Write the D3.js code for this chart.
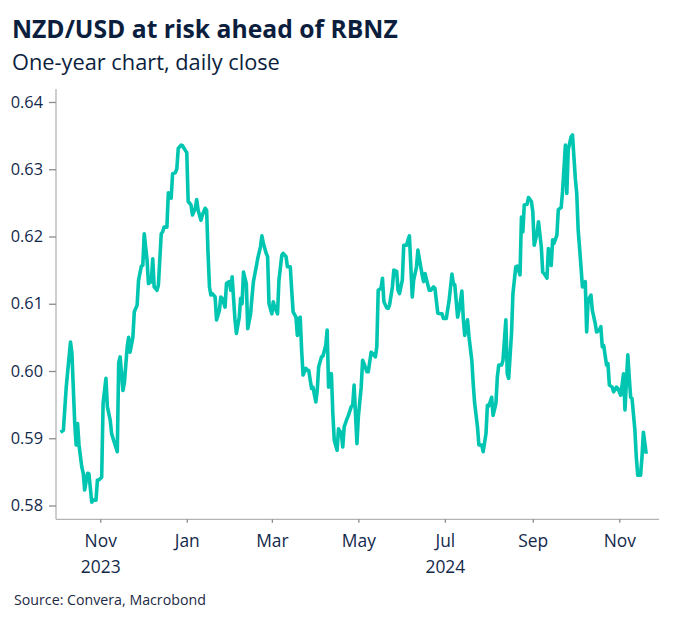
<!DOCTYPE html>
<html><head><meta charset="utf-8">
<script src="https://cdn.jsdelivr.net/npm/d3@7"></script>
<style>body{margin:0;background:#fff}svg{display:block}</style>
</head><body>
<svg id="chart" width="680" height="624"></svg>
<script>
const titleText = "NZD/USD at risk ahead of RBNZ";
const subtitleText = "One-year chart, daily close";
const sourceText = "Source: Convera, Macrobond";

const yTickValues = [0.58, 0.59, 0.60, 0.61, 0.62, 0.63, 0.64];
const xTickDates = ["2023-11-01","2024-01-01","2024-03-01","2024-05-01","2024-07-01","2024-09-01","2024-11-01"];
const xTickMonths = ["Nov","Jan","Mar","May","Jul","Sep","Nov"];
const xTickYears = ["2023","","","","2024","",""];

const dates = [
"2023-10-04","2023-10-06","2023-10-08","2023-10-11","2023-10-12","2023-10-14","2023-10-15","2023-10-16","2023-10-17","2023-10-19","2023-10-20","2023-10-21","2023-10-23","2023-10-24","2023-10-26","2023-10-27","2023-10-29","2023-10-30","2023-10-31",
"2023-11-02","2023-11-03","2023-11-05","2023-11-06","2023-11-08","2023-11-09","2023-11-11","2023-11-13","2023-11-14","2023-11-15","2023-11-17","2023-11-18","2023-11-20","2023-11-21","2023-11-22","2023-11-24","2023-11-25","2023-11-27","2023-11-28","2023-11-30",
"2023-12-01","2023-12-02","2023-12-04","2023-12-05","2023-12-07","2023-12-08","2023-12-09","2023-12-11","2023-12-12","2023-12-14","2023-12-15","2023-12-16","2023-12-18","2023-12-19","2023-12-21","2023-12-22","2023-12-24","2023-12-25","2023-12-26","2023-12-28","2023-12-29","2023-12-31",
"2024-01-01","2024-01-02","2024-01-04","2024-01-05","2024-01-07","2024-01-08","2024-01-09","2024-01-11","2024-01-12","2024-01-14","2024-01-15","2024-01-16","2024-01-17","2024-01-18","2024-01-19","2024-01-21","2024-01-22","2024-01-24","2024-01-25","2024-01-26","2024-01-28","2024-01-29","2024-01-31",
"2024-02-01","2024-02-02","2024-02-04","2024-02-05","2024-02-07","2024-02-08","2024-02-09","2024-02-10","2024-02-12","2024-02-13","2024-02-15","2024-02-16","2024-02-17","2024-02-19","2024-02-20","2024-02-22","2024-02-23","2024-02-24","2024-02-26","2024-02-27","2024-02-28",
"2024-03-01","2024-03-02","2024-03-03","2024-03-05","2024-03-06","2024-03-08","2024-03-09","2024-03-11","2024-03-12","2024-03-14","2024-03-15","2024-03-16","2024-03-18","2024-03-19","2024-03-20","2024-03-21","2024-03-22","2024-03-23","2024-03-25","2024-03-26","2024-03-27","2024-03-29","2024-03-30",
"2024-04-01","2024-04-02","2024-04-03","2024-04-05","2024-04-06","2024-04-08","2024-04-09","2024-04-10","2024-04-12","2024-04-13","2024-04-14","2024-04-16","2024-04-17","2024-04-19","2024-04-20","2024-04-21","2024-04-23","2024-04-24","2024-04-26","2024-04-27","2024-04-28","2024-04-30",
"2024-05-01","2024-05-03","2024-05-04","2024-05-05","2024-05-07","2024-05-08","2024-05-10","2024-05-11","2024-05-13","2024-05-14","2024-05-15","2024-05-17","2024-05-18","2024-05-19","2024-05-21","2024-05-22","2024-05-23","2024-05-25","2024-05-26","2024-05-28","2024-05-29","2024-05-30",
"2024-06-01","2024-06-02","2024-06-04","2024-06-05","2024-06-06","2024-06-08","2024-06-09","2024-06-11","2024-06-12","2024-06-13","2024-06-15","2024-06-16","2024-06-17","2024-06-19","2024-06-20","2024-06-21","2024-06-23","2024-06-24","2024-06-26","2024-06-28","2024-06-29","2024-06-30",
"2024-07-02","2024-07-04","2024-07-06","2024-07-07","2024-07-08","2024-07-10","2024-07-11","2024-07-13","2024-07-14","2024-07-15","2024-07-17","2024-07-18","2024-07-20","2024-07-21","2024-07-22","2024-07-24","2024-07-25","2024-07-27","2024-07-28","2024-07-30","2024-07-31",
"2024-08-01","2024-08-03","2024-08-04","2024-08-06","2024-08-07","2024-08-08","2024-08-10","2024-08-11","2024-08-13","2024-08-14","2024-08-15","2024-08-17","2024-08-18","2024-08-20","2024-08-21","2024-08-23","2024-08-24","2024-08-25","2024-08-26","2024-08-28","2024-08-29","2024-08-31",
"2024-09-01","2024-09-02","2024-09-04","2024-09-05","2024-09-07","2024-09-08","2024-09-09","2024-09-11","2024-09-12","2024-09-14","2024-09-15","2024-09-16","2024-09-18","2024-09-19","2024-09-21","2024-09-22","2024-09-24","2024-09-25","2024-09-26","2024-09-28","2024-09-29",
"2024-10-01","2024-10-02","2024-10-03","2024-10-05","2024-10-06","2024-10-08","2024-10-09","2024-10-10","2024-10-12","2024-10-13","2024-10-15","2024-10-16","2024-10-18","2024-10-19","2024-10-20","2024-10-21","2024-10-23","2024-10-24","2024-10-25","2024-10-27","2024-10-28","2024-10-30","2024-10-31",
"2024-11-02","2024-11-03","2024-11-04","2024-11-05","2024-11-07","2024-11-08","2024-11-09","2024-11-10","2024-11-12","2024-11-13","2024-11-14","2024-11-16","2024-11-17","2024-11-18","2024-11-20"
];

const closes = [
0.5909,0.5912,0.5976,0.6043,0.6027,0.5922,0.5890,0.5922,0.5890,0.5857,0.5848,0.5823,0.5848,0.5847,0.5805,0.5808,0.5808,0.5838,0.5838,
0.5842,0.5952,0.5989,0.5947,0.5927,0.5907,0.5893,0.5880,0.6012,0.6021,0.5971,0.5982,0.6036,0.6050,0.6028,0.6050,0.6088,0.6098,0.6135,0.6156,
0.6157,0.6204,0.6165,0.6130,0.6133,0.6167,0.6125,0.6120,0.6128,0.6204,0.6207,0.6214,0.6214,0.6265,0.6257,0.6293,0.6295,0.6301,0.6331,0.6336,0.6335,0.6328,
0.6325,0.6252,0.6247,0.6232,0.6242,0.6255,0.6239,0.6224,0.6232,0.6242,0.6239,0.6175,0.6125,0.6113,0.6115,0.6110,0.6076,0.6090,0.6110,0.6108,0.6095,0.6130,0.6133,
0.6120,0.6140,0.6076,0.6056,0.6080,0.6108,0.6100,0.6147,0.6130,0.6063,0.6085,0.6110,0.6133,0.6155,0.6167,0.6185,0.6201,0.6190,0.6175,0.6170,0.6100,
0.6085,0.6103,0.6095,0.6085,0.6135,0.6172,0.6175,0.6170,0.6155,0.6155,0.6120,0.6088,0.6080,0.6053,0.6078,0.6080,0.6031,0.5994,0.6004,0.6001,0.6001,0.5974,0.5976,
0.5954,0.5971,0.6006,0.6021,0.6022,0.6038,0.6061,0.5976,0.5996,0.5937,0.5897,0.5882,0.5914,0.5907,0.5887,0.5917,0.5929,0.5934,0.5947,0.5949,0.5979,0.5892,
0.5932,0.5976,0.6016,0.6011,0.5999,0.5999,0.6028,0.6026,0.6021,0.6036,0.6120,0.6123,0.6138,0.6103,0.6094,0.6093,0.6098,0.6125,0.6150,0.6148,0.6120,0.6115,
0.6135,0.6187,0.6187,0.6195,0.6201,0.6110,0.6135,0.6155,0.6180,0.6167,0.6143,0.6133,0.6145,0.6128,0.6120,0.6120,0.6125,0.6123,0.6086,0.6085,0.6085,0.6078,
0.6078,0.6105,0.6144,0.6130,0.6128,0.6080,0.6090,0.6119,0.6078,0.6053,0.6076,0.6051,0.6016,0.5981,0.5952,0.5917,0.5890,0.5890,0.5880,0.5907,0.5949,
0.5948,0.5961,0.5934,0.5952,0.5991,0.6009,0.6009,0.6016,0.6076,0.5996,0.5989,0.6056,0.6115,0.6155,0.6156,0.6143,0.6229,0.6207,0.6247,0.6248,0.6258,0.6252,
0.6237,0.6187,0.6205,0.6222,0.6185,0.6147,0.6145,0.6138,0.6182,0.6157,0.6195,0.6190,0.6202,0.6240,0.6243,0.6267,0.6336,0.6264,0.6329,0.6348,0.6351,
0.6286,0.6264,0.6210,0.6155,0.6125,0.6133,0.6058,0.6105,0.6113,0.6090,0.6071,0.6058,0.6061,0.6066,0.6036,0.6038,0.6009,0.6011,0.5979,0.5976,0.5969,0.5976,0.5974,
0.5964,0.5979,0.5996,0.5942,0.6024,0.5991,0.5961,0.5959,0.5912,0.5872,0.5845,0.5845,0.5872,0.5909,0.5877
];

const parse = d3.timeParse("%Y-%m-%d");
const series = dates.map((d, i) => ({ date: parse(d), value: closes[i] }));

const FONT = "'Open Sans', 'Noto Sans', sans-serif";
const svg = d3.select("#chart");

// layout
const plotLeft = 56, plotRight = 659, plotTop = 89, plotBottom = 519.3;

const x = d3.scaleTime()
  .domain([new Date(2023, 9, 1), new Date(2024, 10, 29)])
  .range([56.3, 659]);
const y = d3.scaleLinear()
  .domain([0.58, 0.64])
  .range([505.5, 102]);

// helper: size a text so its width matches a target width
function fitSize(text, weight, target, base) {
  const t = svg.append("text").attr("font-family", FONT).attr("font-weight", weight)
    .attr("font-size", base).text(text);
  const w = t.node().getComputedTextLength();
  t.remove();
  return base * target / w;
}

// titles
svg.append("text").attr("x", 12).attr("y", 37.5)
  .attr("font-family", FONT).attr("font-weight", 700)
  .attr("font-size", fitSize(titleText, 700, 386, 24))
  .attr("fill", "#0b1e3d").text(titleText);
svg.append("text").attr("x", 12).attr("y", 70)
  .attr("font-family", FONT).attr("font-weight", 400)
  .attr("font-size", fitSize(subtitleText, 400, 268, 20))
  .attr("fill", "#0b1e3d").text(subtitleText);

// axes lines
svg.append("line").attr("x1", plotLeft).attr("x2", plotLeft)
  .attr("y1", plotTop).attr("y2", plotBottom)
  .attr("stroke", "#b4b4b4").attr("stroke-width", 1.3);
svg.append("line").attr("x1", plotLeft).attr("x2", plotRight)
  .attr("y1", plotBottom).attr("y2", plotBottom)
  .attr("stroke", "#b4b4b4").attr("stroke-width", 1.3);

// y axis
const yFs = fitSize("0.64", 400, 32.3, 15);
const yAxis = svg.append("g").attr("transform", `translate(${plotLeft},0)`)
  .call(d3.axisLeft(y).tickValues(yTickValues).tickFormat(d3.format(".2f")).tickSize(7).tickPadding(6));
yAxis.select(".domain").remove();
yAxis.selectAll(".tick line").attr("stroke", "#8c8c8c").attr("stroke-width", 1.3);
yAxis.selectAll(".tick text").attr("font-family", FONT).attr("font-size", yFs)
  .attr("fill", "#13294b");

// x axis
const xFs = fitSize("Nov", 400, 32.3, 16);
const xTicks = xTickDates.map(parse);
const xAxis = svg.append("g").attr("transform", `translate(0,${plotBottom})`)
  .call(d3.axisBottom(x).tickValues(xTicks).tickSize(3.5).tickFormat((d, i) => xTickMonths[i]));
xAxis.select(".domain").remove();
xAxis.selectAll(".tick line").attr("stroke", "#8c8c8c").attr("stroke-width", 1.3);
xAxis.selectAll(".tick text").attr("font-family", FONT).attr("font-size", xFs)
  .attr("fill", "#13294b").attr("y", 546.7 - plotBottom).attr("dy", 0);
xAxis.selectAll(".tick").append("text")
  .attr("font-family", FONT).attr("font-size", xFs).attr("fill", "#13294b")
  .attr("text-anchor", "middle").attr("y", 572.7 - plotBottom)
  .text((d, i) => xTickYears[i]);

// line
const line = d3.line().x(d => x(d.date)).y(d => y(d.value));
svg.append("path").datum(series)
  .attr("d", line).attr("fill", "none")
  .attr("stroke", "#00c6b1").attr("stroke-width", 3.6)
  .attr("stroke-linejoin", "round").attr("stroke-linecap", "butt");

// source
svg.append("text").attr("x", 14).attr("y", 605)
  .attr("font-family", FONT).attr("font-size", fitSize(sourceText, 400, 192, 15))
  .attr("fill", "#1c2a45").text(sourceText);
</script>
</body></html>
